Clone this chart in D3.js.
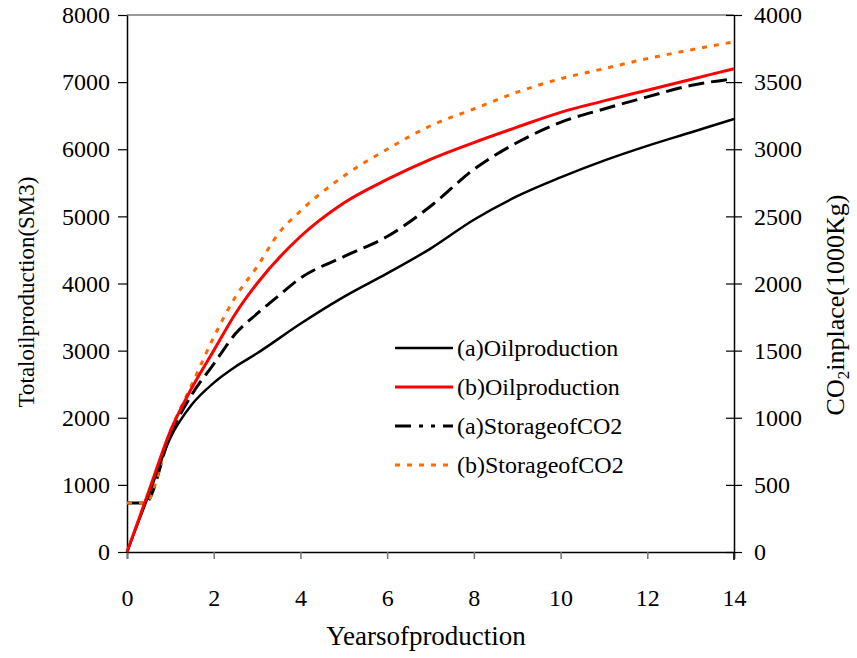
<!DOCTYPE html>
<html>
<head>
<meta charset="utf-8">
<script src="https://cdn.jsdelivr.net/npm/d3@7"></script>
<style>
  body { margin: 0; background: #fff; }
</style>
</head>
<body>
<svg id="chart" width="857" height="658"></svg>
<script>
// data
const oilYears = [0, 0.5, 1, 1.5, 2, 2.5, 3, 4, 5, 6, 7, 8, 9, 10, 11, 12, 13, 14];
const oilA = [0, 850, 1700, 2200, 2520, 2760, 2960, 3400, 3800, 4150, 4520, 4950, 5300, 5580, 5830, 6050, 6250, 6450];
const oilB = [0, 900, 1800, 2450, 3000, 3550, 4000, 4700, 5200, 5550, 5850, 6100, 6330, 6550, 6720, 6880, 7040, 7200];

const storYears = [0, 0.42, 1, 1.5, 2, 2.5, 3, 3.5, 4, 5, 6, 7, 8, 9, 10, 11, 12, 13, 14];
// CO2 in place, 1000Kg (right axis)
const storA = [365, 365, 875, 1175, 1400, 1625, 1775, 1910, 2040, 2200, 2350, 2575, 2850, 3050, 3200, 3300, 3390, 3475, 3525];
const storB = [365, 365, 900, 1250, 1600, 1900, 2125, 2375, 2540, 2800, 3000, 3175, 3300, 3425, 3525, 3600, 3675, 3740, 3800];

const xTicks = [0, 2, 4, 6, 8, 10, 12, 14];
const leftTicks = [0, 1000, 2000, 3000, 4000, 5000, 6000, 7000, 8000];
const rightTicks = [0, 500, 1000, 1500, 2000, 2500, 3000, 3500, 4000];
const legendLabels = ['(a)Oilproduction', '(b)Oilproduction', '(a)StorageofCO2', '(b)StorageofCO2'];

const FONT = '"Liberation Serif"';
const margin = { top: 15, right: 123, bottom: 106, left: 127 };
const width = 857, height = 658;
const svg = d3.select('#chart');

const x = d3.scaleLinear().domain([0, 14]).range([margin.left, width - margin.right]);
const yL = d3.scaleLinear().domain([0, 8000]).range([height - margin.bottom, margin.top]);
const yR = d3.scaleLinear().domain([0, 4000]).range([height - margin.bottom, margin.top]);

// top border
svg.append('line')
  .attr('x1', x(0)).attr('x2', x(14))
  .attr('y1', yL(8000)).attr('y2', yL(8000))
  .attr('stroke', '#777').attr('stroke-width', 1.5);

// x axis
const gx = svg.append('g')
  .attr('transform', `translate(0,${yL(0)})`)
  .call(d3.axisBottom(x).tickValues(xTicks).tickFormat(d3.format('d')).tickSize(7).tickPadding(30));
gx.select('.domain').attr('stroke', '#000').attr('stroke-width', 1.5);
gx.selectAll('.tick line').attr('stroke', '#777').attr('stroke-width', 1.5);

// left axis
const gl = svg.append('g')
  .attr('transform', `translate(${x(0)},0)`)
  .call(d3.axisLeft(yL).tickValues(leftTicks).tickFormat(d3.format('d')).tickSize(9).tickPadding(8).tickSizeOuter(0));
gl.select('.domain').attr('stroke', '#000').attr('stroke-width', 1.5);
gl.selectAll('.tick line').attr('stroke', '#000').attr('stroke-width', 1.2);

// right axis, ticks crossing the line
const gr = svg.append('g')
  .attr('transform', `translate(${x(14)},0)`)
  .call(d3.axisRight(yR).tickValues(rightTicks).tickFormat(d3.format('d')).tickSize(8).tickPadding(12).tickSizeOuter(0));
gr.select('.domain').attr('stroke', '#000').attr('stroke-width', 1.5);
gr.selectAll('.tick line').attr('x1', -8).attr('stroke', '#000').attr('stroke-width', 1.2);
gr.append('line').attr('x1', 0).attr('x2', 0).attr('y1', yR(0)).attr('y2', yR(0) + 8)
  .attr('stroke', '#000').attr('stroke-width', 1.5);

[gx, gl, gr].forEach(g => {
  g.attr('font-family', null).attr('font-size', null);
  g.selectAll('.tick text').style('font-family', FONT).style('font-size', '24px').attr('fill', '#000');
});

// axis titles
svg.append('text')
  .attr('x', 426).attr('y', 645)
  .attr('text-anchor', 'middle').style('font-family', FONT).style('font-size', '27px')
  .text('Yearsofproduction');

svg.append('text')
  .attr('transform', 'translate(34,292) rotate(-90)')
  .attr('text-anchor', 'middle').style('font-family', FONT).style('font-size', '23px')
  .text('Totaloilproduction(SM3)');

const rt = svg.append('text')
  .attr('transform', 'translate(844,305) rotate(-90)')
  .attr('text-anchor', 'middle').style('font-family', FONT).style('font-size', '26px');
rt.append('tspan').text('CO');
rt.append('tspan').attr('dy', 5).style('font-size', '17px').text('2');
rt.append('tspan').attr('dy', -5).text('inplace(1000Kg)');

// series
const lineL = d3.line().x(d => x(d[0])).y(d => yL(d[1])).curve(d3.curveMonotoneX);
const lineR = d3.line().x(d => x(d[0])).y(d => yR(d[1])).curve(d3.curveMonotoneX);

const series = [
  { label: legendLabels[0], pts: d3.zip(oilYears, oilA), line: lineL, color: '#000', w: 2.5, dash: null },
  { label: legendLabels[1], pts: d3.zip(oilYears, oilB), line: lineL, color: '#ff0000', w: 3, dash: null },
  { label: legendLabels[2], pts: d3.zip(storYears, storA), line: lineR, color: '#000', w: 3, dash: '16,7' },
  { label: legendLabels[3], pts: d3.zip(storYears, storB), line: lineR, color: '#ff6a00', w: 3, dash: '5,7' }
];

// draw storage first, then oil lines on top
[series[2], series[3], series[0], series[1]].forEach(s => {
  svg.append('path')
    .datum(s.pts)
    .attr('fill', 'none')
    .attr('stroke', s.color)
    .attr('stroke-width', s.w)
    .attr('stroke-dasharray', s.dash)
    .attr('d', s.line);
});

// legend
const legend = svg.append('g').attr('transform', 'translate(395,348)');
series.forEach((s, i) => {
  const g = legend.append('g').attr('transform', `translate(0,${i * 39})`);
  g.append('line')
    .attr('x1', 0).attr('x2', 58).attr('y1', 0).attr('y2', 0)
    .attr('stroke', s.color)
    .attr('stroke-width', s.w)
    .attr('stroke-dasharray', i === 2 ? '16,8,4,8,4,8' : s.dash);
  g.append('text')
    .attr('x', 62).attr('y', 8)
    .style('font-family', FONT)
    .style('font-size', '24px')
    .text(s.label);
});
</script>
</body>
</html>
